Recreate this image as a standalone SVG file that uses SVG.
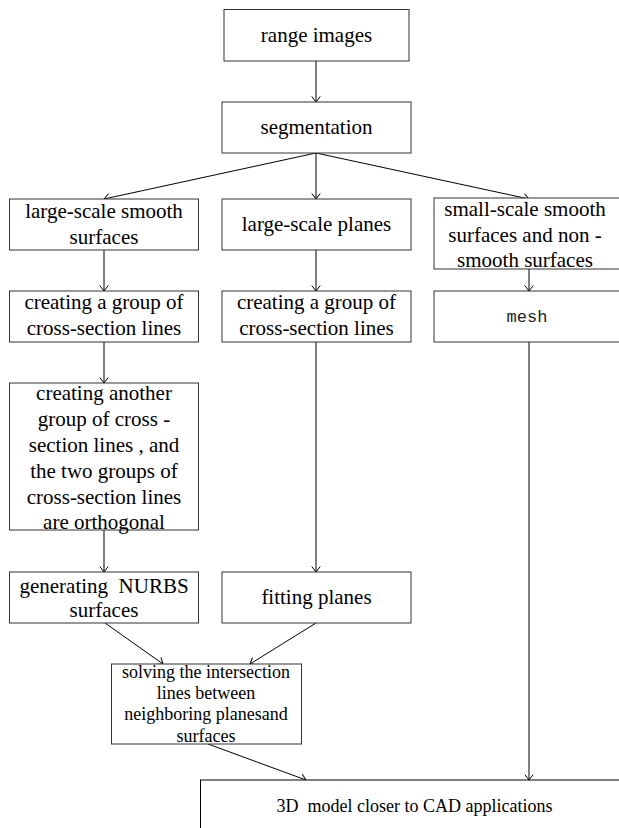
<svg xmlns="http://www.w3.org/2000/svg" width="619" height="828" viewBox="0 0 619 828">
<defs>
<marker id="ah" markerUnits="userSpaceOnUse" markerWidth="12" markerHeight="12" refX="6" refY="6" orient="auto">
<path d="M0.5,1.8 L6,6 L0.5,10.2" fill="none" stroke="#000" stroke-width="1"/>
</marker>
<style>
rect.b{fill:#fff;stroke:#333;stroke-width:1}
text{font-family:"Liberation Serif","Times New Roman",serif;font-size:21px;fill:#000;text-anchor:middle}
text.s{font-size:18px}
text.m{font-family:"Liberation Mono","DejaVu Sans Mono",monospace;font-size:17px;fill:#222}
.c line{stroke:#000;stroke-width:1;marker-end:url(#ah)}
</style>
</defs>
<rect width="619" height="828" fill="#fff"/>
<g class="c" id="connectors">
<line x1="316" y1="61" x2="316" y2="102"/>
<line x1="316" y1="153" x2="104" y2="199"/>
<line x1="316" y1="153" x2="316" y2="199"/>
<line x1="316" y1="153" x2="529" y2="199"/>
<line x1="104" y1="250" x2="104" y2="291"/>
<line x1="316" y1="250" x2="316" y2="291"/>
<line x1="529" y1="269" x2="529" y2="291"/>
<line x1="104" y1="342" x2="104" y2="383"/>
<line x1="104" y1="530" x2="104" y2="572"/>
<line x1="316" y1="342" x2="316" y2="572"/>
<line x1="529" y1="342" x2="529" y2="780"/>
<line x1="105" y1="623" x2="163" y2="664"/>
<line x1="316" y1="623" x2="250" y2="664"/>
<line x1="208" y1="744" x2="306" y2="780"/>
</g>
<g id="range-images">
<rect class="b" x="224" y="9.5" width="185" height="51.5"/>
<text x="316.5" y="42">range images</text>
</g>
<g id="segmentation">
<rect class="b" x="222" y="102" width="189" height="51"/>
<text x="316.5" y="134">segmentation</text>
</g>
<g id="large-smooth">
<rect class="b" x="9.5" y="199" width="189" height="51"/>
<text x="104" y="218">large-scale smooth</text>
<text x="104" y="244">surfaces</text>
</g>
<g id="large-planes">
<rect class="b" x="222" y="199" width="189" height="51"/>
<text x="316.5" y="231">large-scale planes</text>
</g>
<g id="small-scale">
<rect class="b" x="434" y="198" width="190" height="71"/>
<text x="525" y="216">small-scale smooth</text>
<text x="525" y="242">surfaces and non -</text>
<text x="525" y="267">smooth surfaces</text>
</g>
<g id="group-left">
<rect class="b" x="9.5" y="291" width="189" height="51"/>
<text x="104" y="309">creating a group of</text>
<text x="104" y="335">cross-section lines</text>
</g>
<g id="group-mid">
<rect class="b" x="222" y="291" width="189" height="51"/>
<text x="316.5" y="309">creating a group of</text>
<text x="316.5" y="335">cross-section lines</text>
</g>
<g id="mesh">
<rect class="b" x="434" y="291" width="190" height="51"/>
<text class="m" x="527" y="322">mesh</text>
</g>
<g id="another-group">
<rect class="b" x="9.5" y="383" width="189" height="147"/>
<text x="104" y="400">creating another</text>
<text x="104" y="426">group of cross -</text>
<text x="104" y="452">section lines , and</text>
<text x="104" y="478">the two groups of</text>
<text x="104" y="504">cross-section lines</text>
<text x="104" y="529">are orthogonal</text>
</g>
<g id="nurbs">
<rect class="b" x="9.5" y="572" width="189" height="51"/>
<text x="104" y="593" xml:space="preserve">generating  NURBS</text>
<text x="104" y="617">surfaces</text>
</g>
<g id="fitting">
<rect class="b" x="222" y="572" width="189" height="51"/>
<text x="316.5" y="604">fitting planes</text>
</g>
<g id="solving">
<rect class="b" x="111.5" y="664" width="190" height="80"/>
<text class="s" x="206" y="678">solving the intersection</text>
<text class="s" x="206" y="699">lines between</text>
<text class="s" x="206" y="720">neighboring planesand</text>
<text class="s" x="206" y="742">surfaces</text>
</g>
<g id="model">
<rect x="200.5" y="780" width="430" height="60" fill="#fff" stroke="#000" stroke-width="1"/>
<text class="s" x="414.5" y="812" xml:space="preserve">3D  model closer to CAD applications</text>
</g>
</svg>
